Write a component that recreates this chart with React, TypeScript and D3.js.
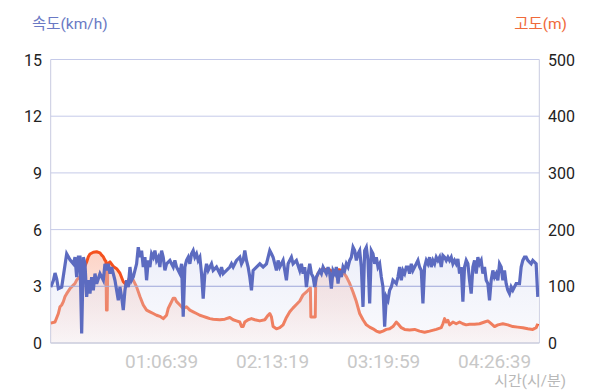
import React from "react";
import * as d3 from "d3";

// Elapsed time in minutes, speed in km/h
const speed: [number, number][] = [
  [0,2.96],[1.6,3.3],[2.6,3.7],[3.6,3.4],[4.6,2.88],[6.6,2.96],[9.6,4.72],[11.6,4.4],[13.6,4.19],[14.6,4.54],[15.6,3.49],[16.6,4.54],[17.6,4.54],[18.6,0.51],[19.6,4.54],[20.6,4.19],[21.6,2.44],[22.6,3.32],[23.6,2.61],[24.6,3.49],[25.6,2.79],[26.6,3.67],[27.6,3.14],[29.6,3.67],[31.6,3.32],[32.6,4.19],[33.6,3.84],[34.6,4.19],[35.6,3.67],[36.6,4.02],[38.6,3.32],[40.6,2.26],[41.6,2.96],[42.6,2.44],[43.6,1.74],[44.6,2.79],[45.6,3.32],[46.6,2.96],[47.6,4.02],[48.6,3.32],[49.6,3.49],[51.6,4.19],[52.6,5.07],[53.6,4.54],[54.6,4.89],[55.6,4.02],[56.6,4.54],[57.6,3.32],[58.6,4.37],[59.6,4.02],[60.6,4.72],[61.6,4.54],[62.6,4.89],[63.6,4.37],[64.6,4.54],[65.6,4.02],[66.6,4.89],[67.6,4.54],[68.6,3.84],[69.6,4.19],[71.6,4.37],[72.6,4.19],[73.6,4.02],[74.6,4.37],[75.6,4.02],[77.6,3.67],[78.6,4.19],[79.6,1.39],[80.6,4.02],[81.6,4.37],[82.6,4.54],[83.6,4.19],[84.6,4.72],[85.6,4.89],[86.6,4.54],[87.6,4.72],[88.6,4.37],[89.6,4.54],[90.6,3.67],[91.6,2.35],[92.6,3.67],[93.6,4.19],[94.6,3.84],[95.6,4.02],[96.6,4.19],[97.6,3.84],[99.6,4.02],[101.6,3.67],[102.6,4.02],[103.6,3.67],[105.6,3.84],[107.6,4.02],[108.6,4.19],[109.6,4.02],[111.6,4.37],[113.6,4.54],[114.6,4.19],[115.6,4.37],[116.6,4.89],[117.6,4.37],[118.6,4.02],[119.6,3.49],[120.6,2.79],[121.6,3.84],[123.6,4.02],[125.6,4.19],[127.6,4.02],[129.6,4.19],[131.6,4.89],[132.6,4.72],[133.6,4.54],[135.6,3.84],[136.6,4.37],[137.6,4.02],[139.6,4.37],[141.6,3.32],[142.6,4.19],[144.6,4.54],[145.6,4.19],[147.6,4.37],[149.6,3.84],[150.6,4.19],[151.6,3.67],[152.6,4.02],[153.6,2.96],[154.6,3.67],[155.6,4.19],[156.6,3.67],[157.6,3.49],[158.6,2.96],[159.6,3.49],[161.6,3.84],[162.6,3.67],[163.6,4.02],[164.6,3.84],[165.6,3.67],[166.6,4.02],[167.6,3.67],[168.6,2.88],[169.6,3.84],[170.6,3.67],[171.6,4.02],[172.6,3.14],[173.6,3.84],[174.6,3.49],[175.6,4.02],[176.6,3.84],[177.6,4.19],[178.6,4.02],[179.6,4.37],[180.6,4.54],[181.6,5.07],[182.6,4.89],[183.6,4.37],[184.6,4.72],[185.6,4.89],[186.6,4.02],[187.6,1.91],[188.6,4.89],[189.6,5.07],[190.6,4.37],[191.6,2.09],[192.6,4.89],[193.6,4.72],[194.6,4.19],[195.6,4.54],[196.6,4.02],[197.6,4.19],[198.6,3.49],[199.6,2.96],[200.6,0.86],[201.6,2.44],[202.6,2.26],[203.6,2.79],[204.6,2.96],[205.6,3.32],[207.6,3.14],[208.6,3.49],[209.6,4.02],[210.6,3.32],[211.6,3.84],[212.6,3.67],[213.6,4.02],[214.6,4.02],[215.6,3.67],[216.6,4.19],[217.6,3.84],[218.6,4.02],[219.6,4.19],[220.6,4.37],[221.6,4.02],[222.6,3.84],[223.6,2.09],[224.6,4.02],[225.6,4.37],[226.6,4.19],[227.6,4.54],[228.6,4.02],[229.6,4.37],[230.6,4.19],[231.6,4.54],[232.6,4.37],[233.6,4.54],[234.6,4.02],[235.6,4.63],[236.6,4.54],[237.6,4.37],[238.6,4.54],[239.6,4.37],[240.6,4.54],[241.6,4.19],[242.6,4.37],[243.6,4.19],[244.6,4.45],[245.6,3.67],[246.6,4.02],[247.6,2.18],[248.6,4.02],[249.6,4.37],[250.6,4.19],[251.6,3.32],[252.6,2.61],[253.6,4.02],[254.6,4.37],[255.6,3.67],[256.6,4.54],[257.6,4.19],[258.6,4.37],[259.6,3.67],[260.6,4.02],[261.6,3.32],[262.6,3.14],[263.6,2.26],[264.6,3.32],[265.6,3.84],[266.6,3.49],[267.6,3.67],[268.6,3.32],[269.6,4.19],[270.6,4.02],[271.6,3.32],[272.6,3.84],[273.6,3.14],[274.6,2.79],[275.6,2.61],[276.6,2.96],[277.6,2.79],[279.6,3.14],[281.6,3.14],[282.6,4.02],[283.6,4.37],[284.6,4.54],[285.6,4.54],[286.6,4.37],[287.6,4.28],[288.6,4.19],[289.6,4.37],[290.6,4.28],[291.6,4.19],[292.6,2.44]
];

// Elapsed time in minutes, altitude in m
const altitude: [number, number][] = [
  [0,35],[2.6,37],[4.6,52],[5.6,64],[6.6,67],[7.6,73],[8.6,82],[9.6,87],[11.6,96],[13.6,102],[14.6,105],[15.6,111],[17.6,117],[19.6,129],[21.6,143],[22.6,152],[23.6,157],[25.6,160],[27.6,161],[29.6,159],[30.6,155],[31.6,152],[32.6,146],[33.2,144],[33.5,58],[33.9,58],[34.3,140],[35.6,143],[37.6,135],[39.6,131],[41.6,123],[43.6,108],[45.6,102],[47.6,117],[49.6,111],[51.6,99],[53.6,82],[55.6,67],[57.6,58],[59.6,55],[61.6,52],[63.6,49],[65.6,47],[67.6,43],[69.6,49],[70.6,61],[71.6,67],[72.6,73],[73.6,79],[74.6,79],[75.6,73],[77.6,67],[79.6,61],[81.6,64],[83.6,58],[85.6,55],[87.6,52],[89.6,49],[91.6,47],[93.6,45],[95.6,43],[97.6,42],[101.6,41],[104.6,42],[107.6,45],[109.6,41],[111.6,39],[113.6,37],[114.6,29],[115.6,29],[116.6,37],[118.6,41],[120.6,43],[122.6,41],[125.6,39],[128.6,41],[130.6,49],[131.6,52],[132.6,46],[133.6,29],[135.6,25],[137.6,27],[139.6,32],[141.6,45],[143.6,55],[145.6,62],[147.6,68],[149.6,74],[151.6,85],[153.6,90],[155.6,96],[156.0,97],[156.3,46],[158.9,46],[159.2,111],[160.6,123],[162.6,129],[163.6,131],[165.6,129],[167.6,129],[169.6,125],[171.6,129],[173.6,129],[175.6,125],[177.6,117],[179.6,105],[181.6,90],[183.6,73],[185.6,52],[187.6,41],[189.6,32],[191.6,28],[193.6,25],[195.6,21],[197.6,19],[199.6,21],[201.6,24],[203.6,25],[205.6,29],[207.6,37],[208.6,34],[210.6,27],[212.6,24],[215.6,23],[218.6,24],[221.6,21],[224.6,19],[227.6,21],[231.6,24],[234.6,27],[235.6,34],[236.6,43],[237.6,37],[238.6,40],[239.6,32],[241.6,37],[243.6,34],[245.6,37],[247.6,34],[249.6,32],[251.6,33],[254.6,33],[257.6,34],[260.6,37],[262.6,39],[264.6,34],[266.6,29],[268.6,32],[271.6,34],[274.6,32],[277.6,29],[280.6,28],[283.6,27],[286.6,25],[289.6,24],[291.6,27],[292.6,34]
];

const speedTicks = [0, 3, 6, 9, 12, 15];
const altitudeTicks = [0, 100, 200, 300, 400, 500];
const timeTicksSec = [3999, 7999, 11999, 15999];

const fmtTime = (s: number) => {
  const h = Math.floor(s / 3600);
  const m = Math.floor((s % 3600) / 60);
  const sec = Math.floor(s % 60);
  const p = (n: number) => String(n).padStart(2, "0");
  return `${p(h)}:${p(m)}:${p(sec)}`;
};

export default function App() {
  const W = 600, H = 390;
  const left = 50.7, right = 539.3, top = 59.5, bottom = 343;
  const x = d3.scaleLinear().domain([0, 293.5]).range([left, right]);
  const yS = d3.scaleLinear().domain([0, 15]).range([bottom, top]);
  const yA = d3.scaleLinear().domain([0, 500]).range([bottom, top]);

  const speedLine = d3.line<[number, number]>().x(d => x(d[0])).y(d => yS(d[1]));
  const speedArea = d3.area<[number, number]>().x(d => x(d[0])).y0(bottom).y1(d => yS(d[1]));
  const altLine = d3.line<[number, number]>().x(d => x(d[0])).y(d => yA(d[1]));
  const altArea = d3.area<[number, number]>().x(d => x(d[0])).y0(bottom).y1(d => yA(d[1]));

  const font = "Roboto, 'Noto Sans CJK KR', sans-serif";
  const blue = "#5c6bc0";
  const orange = "#f4511e";

  return (
    <svg width={W} height={H} style={{ position: "absolute", left: 0, top: 0, background: "#fff" }} fontFamily={font}>
      <defs>
        <linearGradient id="altFill" gradientUnits="userSpaceOnUse" x1="0" y1={yA(165)} x2="0" y2={bottom}>
          <stop offset="0" stopColor="#f4511e" stopOpacity="0.26" />
          <stop offset="1" stopColor="#f4511e" stopOpacity="0.04" />
        </linearGradient>
        <linearGradient id="spdFill" gradientUnits="userSpaceOnUse" x1="0" y1={yS(5)} x2="0" y2={bottom}>
          <stop offset="0" stopColor="#d9ddf3" stopOpacity="0.5" />
          <stop offset="1" stopColor="#e8eaf7" stopOpacity="0.25" />
        </linearGradient>
        <clipPath id="plotClip">
          <rect x={left} y={top} width={right - left} height={bottom - top} />
        </clipPath>
      </defs>

      {/* axis titles */}
      <text x={32} y={29} fontSize={15.5} fill="#6a79c4">속도(km/h)</text>
      <text x={567} y={29} fontSize={15.5} fill="#f06a3a" textAnchor="end">고도(m)</text>

      {/* gridlines */}
      {speedTicks.map(t => (
        <line key={"g" + t} x1={left} x2={right} y1={yS(t)} y2={yS(t)} stroke="#c5cae9" strokeWidth={1} />
      ))}
      <line x1={left} x2={left} y1={top} y2={bottom} stroke="#c8cbe0" strokeWidth={1} />
      <line x1={right} x2={right} y1={top} y2={bottom} stroke="#c8cbe0" strokeWidth={1} />

      <g clipPath="url(#plotClip)">
        <path d={altArea(altitude) || ""} fill="url(#altFill)" />
        <path d={altLine(altitude) || ""} fill="none" stroke={orange} strokeWidth={3} strokeLinejoin="round" />
        <path d={speedArea(speed) || ""} fill="url(#spdFill)" />
        <line x1={left} x2={right} y1={yS(3)} y2={yS(3)} stroke="#a9b1de" strokeWidth={1} />
        <path d={speedLine(speed) || ""} fill="none" stroke={blue} strokeWidth={3.2} strokeLinejoin="miter" />
      </g>
      <line x1={left} x2={right} y1={bottom} y2={bottom} stroke="#c9cbd6" strokeWidth={1} />

      {/* left ticks */}
      {speedTicks.map(t => (
        <text key={"l" + t} x={42} y={yS(t) + 6} fontSize={16} fill="#222" textAnchor="end">{t}</text>
      ))}
      {/* right ticks */}
      {altitudeTicks.map(t => (
        <text key={"r" + t} x={548} y={yA(t) + 6} fontSize={16} fill="#222">{t}</text>
      ))}
      {/* time ticks */}
      {timeTicksSec.map(s => (
        <text key={"t" + s} x={x(s / 60)} y={368} fontSize={19} fill="#c8c8c8" textAnchor="middle">{fmtTime(s)}</text>
      ))}
      <text x={566} y={386} fontSize={15} fill="#b8b8b8" textAnchor="end">시간(시/분)</text>
    </svg>
  );
}
